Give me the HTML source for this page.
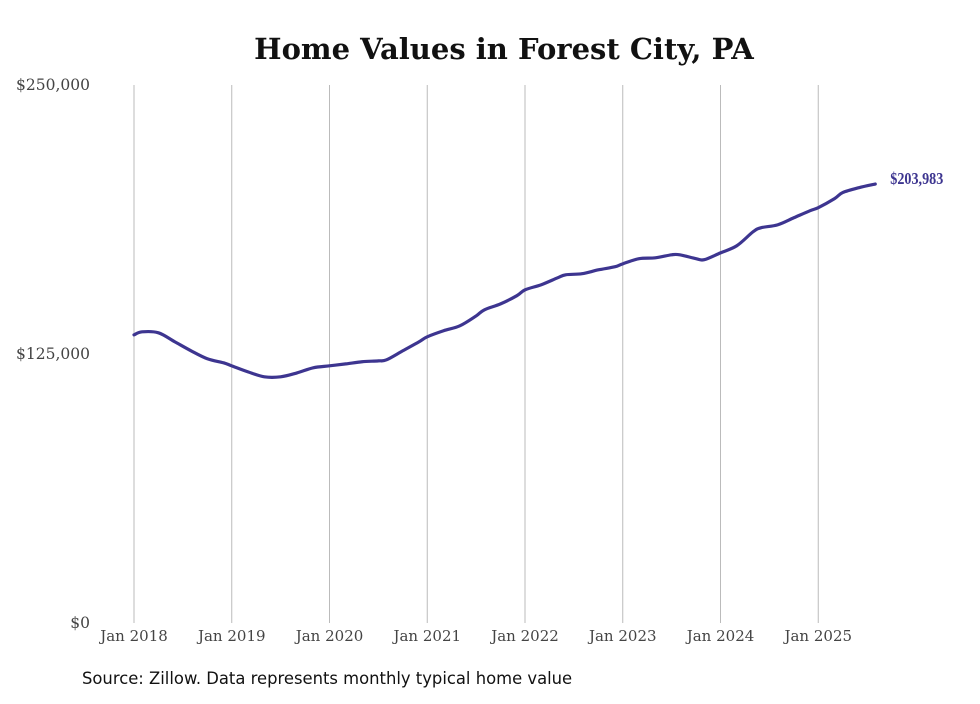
<!DOCTYPE html>
<html><head><meta charset="utf-8"><style>
body{margin:0;background:#fff;}
svg text{font-family:"DejaVu Serif","Liberation Serif",serif;}
</style></head><body>
<svg width="980" height="699" xmlns="http://www.w3.org/2000/svg" id="chart">
<text x="504" y="59" text-anchor="middle" font-size="29" font-weight="bold" fill="#111">Home Values in Forest City, PA</text>
<g id="grid"></g>
<g id="yt"></g>
<g id="xt"></g>
<path id="line" fill="none" stroke="#3d3590" stroke-width="3.2" stroke-linejoin="round" stroke-linecap="round"/>
<text id="endlabel" font-size="17" font-weight="bold" fill="#3d3590" style="font-family:'Liberation Serif',serif" textLength="53" lengthAdjust="spacingAndGlyphs"></text>
<text x="82" y="684" font-size="16.4" fill="#111" style="font-family:'DejaVu Sans',sans-serif">Source: Zillow. Data represents monthly typical home value</text>
</svg>
<script>
const monthOffsets=[0,1,3,5,7,9,11,12,14,16,18,20,22,24,26,28,30,31,33,35,36,38,40,42,43,45,47,48,50,52,53,55,57,59,60,62,64,66,67,69,70,72,74,76,77,79,81,83,84,86,87,89,91];
const values=[133900,135300,134850,130700,126500,122800,120900,119500,116700,114400,114400,116200,118600,119500,120400,121400,121800,122300,126500,130700,133000,135800,138100,142700,145500,148300,152100,154800,157200,160400,161800,162300,164100,165500,166900,169300,169700,171100,171100,169300,168800,172000,175300,181800,183700,185000,188300,191600,193000,197200,200000,202300,203983];
const yTicks=[0,125000,250000];
const yTickLabels=["$0","$125,000","$250,000"];
const xYears=[2018,2019,2020,2021,2022,2023,2024,2025];
const endLabel="$203,983";
const NS="http://www.w3.org/2000/svg";
function xs(m){return 134+m/12*97.75;}
function ys(v){return 623-v/250000*538;}
const grid=document.getElementById('grid'),yt=document.getElementById('yt'),xt=document.getElementById('xt');
xYears.forEach((yr,i)=>{
 const x=xs((yr-2018)*12);
 const l=document.createElementNS(NS,'line');
 
 
 l.setAttribute('x1',x);l.setAttribute('x2',x);l.setAttribute('y1',85);l.setAttribute('y2',623);
 l.setAttribute('stroke','#bbb');l.setAttribute('stroke-width','1');
 grid.appendChild(l);
 const t=document.createElementNS(NS,'text');
 
 
 t.setAttribute('x',x);t.setAttribute('y',641);t.setAttribute('text-anchor','middle');
 t.setAttribute('font-size','15');t.setAttribute('fill','#444');
 t.textContent='Jan '+yr;xt.appendChild(t);
});
yTicks.forEach((v,i)=>{
 const t=document.createElementNS(NS,'text');
 
 
 t.setAttribute('x',90);t.setAttribute('y',ys(v)+5);t.setAttribute('text-anchor','end');
 t.setAttribute('font-size','15.5');t.setAttribute('fill','#444');
 t.textContent=yTickLabels[i];yt.appendChild(t);
});
const pts=monthOffsets.map((m,i)=>[xs(m),ys(values[i])]);
let d='M'+pts[0][0]+','+pts[0][1];
for(let i=0;i<pts.length-1;i++){
 const p0=pts[Math.max(0,i-1)],p1=pts[i],p2=pts[i+1],p3=pts[Math.min(pts.length-1,i+2)];
 const c1x=p1[0]+(p2[0]-p0[0])/6,c1y=p1[1]+(p2[1]-p0[1])/6;
 const c2x=p2[0]-(p3[0]-p1[0])/6,c2y=p2[1]-(p3[1]-p1[1])/6;
 d+=' C'+c1x+','+c1y+' '+c2x+','+c2y+' '+p2[0]+','+p2[1];
}
document.getElementById('line').setAttribute('d',d);
const last=pts[pts.length-1];
const el=document.getElementById('endlabel');
el.setAttribute('x',last[0]+15);el.setAttribute('y',last[1]+0);el.textContent=endLabel;
</script>
</body></html>
